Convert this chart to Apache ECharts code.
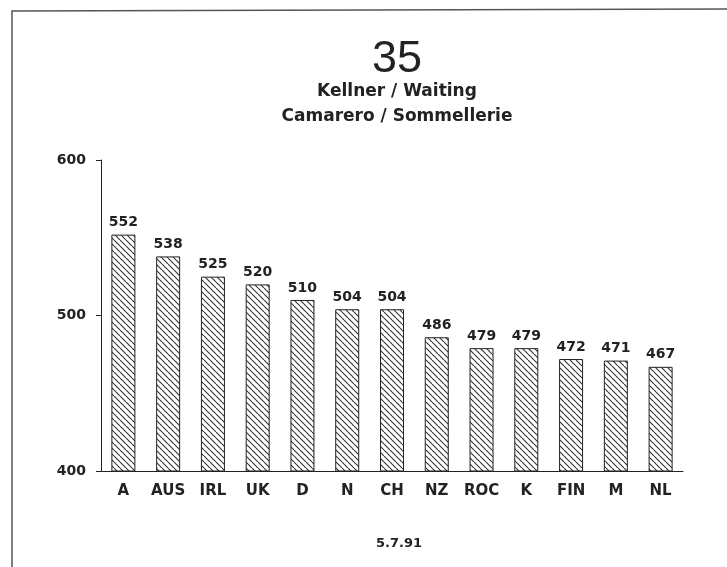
<!DOCTYPE html>
<html><head><meta charset="utf-8">
<script src="https://cdn.jsdelivr.net/npm/echarts@6/dist/echarts.min.js"></script>
<style>html,body{margin:0;padding:0;background:#fff}#c{width:727px;height:567px}</style>
</head><body><div id="c"></div>
<script>
var categories = ['A','AUS','IRL','UK','D','N','CH','NZ','ROC','K','FIN','M','NL'];
var values = [552,538,525,520,510,504,504,486,479,479,472,471,467];
var yTicks = [400,500,600];

function hatch(){
  var c = document.createElement('canvas');
  c.width = 6; c.height = 6;
  var g = c.getContext('2d');
  g.fillStyle = '#fff'; g.fillRect(0,0,6,6);
  g.strokeStyle = '#333'; g.lineWidth = 1.1;
  g.beginPath();
  for (var k=-6;k<=6;k+=6){ g.moveTo(k,0); g.lineTo(k+6,6); }
  g.stroke();
  return c;
}
var chart = echarts.init(document.getElementById('c'), null, {renderer:'canvas'});
var font = '"DejaVu Sans", sans-serif';
var font2 = '"Liberation Sans", Arial, sans-serif';
chart.setOption({
  backgroundColor:'#fff',
  animation:false,
  title:[
    {text:'35', left:392, top:32, textAlign:'center', textStyle:{fontFamily:font2, fontSize:45, fontWeight:'normal', color:'#222'}},
    {text:'Kellner / Waiting', left:392, top:78, textAlign:'center', textStyle:{fontFamily:font, fontSize:17, fontWeight:'bold', color:'#222'}},
    {text:'Camarero / Sommellerie', left:392, top:103, textAlign:'center', textStyle:{fontFamily:font, fontSize:17, fontWeight:'bold', color:'#222'}},
    {text:'5.7.91', left:394, top:532, textAlign:'center', textStyle:{fontFamily:font, fontSize:13, fontWeight:'bold', color:'#222'}}
  ],
  graphic:[
    {type:'polyline', shape:{points:[[12,567],[12,11],[727,9]]}, style:{stroke:'#555', lineWidth:1.5, fill:null}}
  ],
  grid:{left:101, right:44, top:160, bottom:96},
  xAxis:{type:'category', data:categories, boundaryGap:true,
    axisLine:{lineStyle:{color:'#222', width:1}},
    axisTick:{alignWithLabel:true, interval:0, length:5, lineStyle:{color:'#222'}},
    axisLabel:{interval:0, hideOverlap:false, fontFamily:font, fontSize:15, fontWeight:'bold', color:'#222', margin:13}},
  yAxis:{type:'value', min:yTicks[0], max:yTicks[yTicks.length-1], interval:100,
    splitLine:{show:false},
    axisLine:{show:true, lineStyle:{color:'#222'}},
    axisTick:{show:true, length:5, lineStyle:{color:'#222'}},
    axisLabel:{fontFamily:font, fontSize:14, fontWeight:'bold', color:'#222', margin:15}},
  series:[{type:'bar', data:values, barWidth:24,
    itemStyle:{color:{image:hatch(), repeat:'repeat'}, borderColor:'#222', borderWidth:1},
    label:{show:true, position:'top', distance:5, fontFamily:font, fontSize:14, fontWeight:'bold', color:'#222'}}]
});
</script></body></html>
